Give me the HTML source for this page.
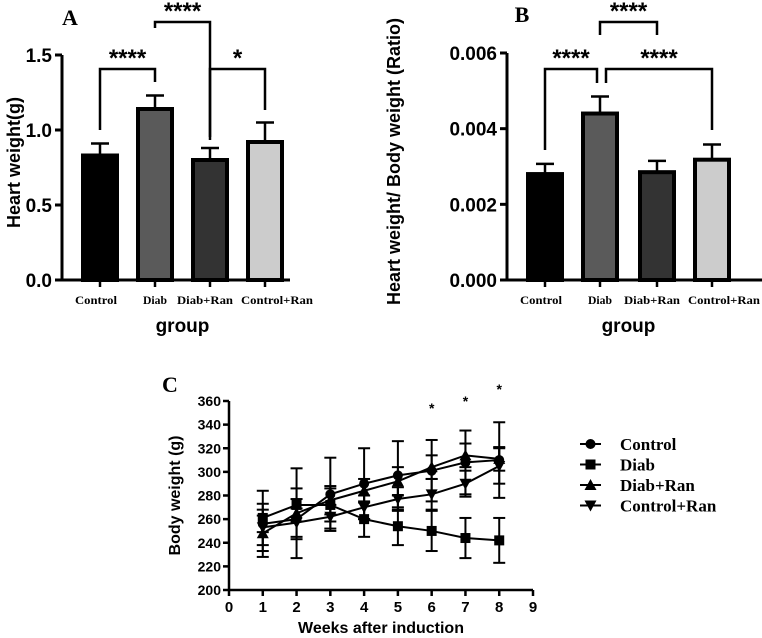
<!DOCTYPE html>
<html><head><meta charset="utf-8"><style>
body{margin:0;background:#fff}
svg{display:block}
.ax{font-family:"Liberation Sans",Arial,sans-serif;font-weight:bold}
.sf{font-family:"Liberation Serif",serif;font-weight:bold}
</style></head><body>
<svg id="s" width="762" height="638" viewBox="0 0 762 638"></svg>
<script>
const groups=["Control","Diab","Diab+Ran","Control+Ran"];
const fills=["#000","#5a5a5a","#333","#ccc"];
const aVals=[0.83,1.14,0.80,0.92];
const aErr=[0.08,0.09,0.08,0.13];
const aTicks=[0,0.5,1.0,1.5];
const bVals=[0.0028,0.0044,0.00285,0.00318];
const bErr=[0.00027,0.00045,0.0003,0.0004];
const bTicks=[0,0.002,0.004,0.006];
const weeks=[1,2,3,4,5,6,7,8];
const cCtrl=[256,260,281,290,297,301,308,310];
const cCtrlE=[28,17,31,30,29,26,27,32];
const cDiab=[261,272,272,260,254,250,244,242];
const cDiabE=[12,14,14,15,16,17,17,19];
const cDR=[248,265,276,284,292,304,314,311];
const cDRE=[15,38,12,10,12,10,10,10];
const cCR=[253,257,262,270,277,281,290,305];
const cCRE=[15,12,10,10,10,13,11,15];
const cXTicks=[0,1,2,3,4,5,6,7,8,9];
const cYTicks=[200,220,240,260,280,300,320,340,360];
const starWeeks=[6,7,8];

const S=document.getElementById('s');const NS="http://www.w3.org/2000/svg";
function el(t,a,p){const e=document.createElementNS(NS,t);for(const k in a)e.setAttribute(k,a[k]);(p||S).appendChild(e);return e;}
function txt(x,y,s,cls,size,anchor,extra){const e=el('text',Object.assign({x:x,y:y,'class':cls,'font-size':size,'text-anchor':anchor||'middle'},extra||{}));e.textContent=s;return e;}

function barChart(prefix,x0,xEnd,y0,yTop,maxV,vals,errs,ticks,fmt,centers,ylabel,ytx,brackets){
  const g=el('g',{});
  
  
  const Y=v=>y0-(v/maxV)*(y0-yTop);
  el('line',{x1:x0,y1:y0,x2:x0,y2:yTop,stroke:'#000','stroke-width':3},g);
  el('line',{x1:x0,y1:y0,x2:xEnd,y2:y0,stroke:'#000','stroke-width':3},g);
  ticks.forEach(t=>{el('line',{x1:x0-7,y1:Y(t),x2:x0,y2:Y(t),stroke:'#000','stroke-width':3},g);
    const tt=txt(x0-10,Y(t)+7,fmt(t),'ax',19,'end');g.appendChild(tt);
    });
  vals.forEach((v,i)=>{const c=centers[i];
    el('line',{x1:c,y1:Y(v),x2:c,y2:Y(v+errs[i]),stroke:'#000','stroke-width':2.5},g);
    el('line',{x1:c-9,y1:Y(v+errs[i]),x2:c+9,y2:Y(v+errs[i]),stroke:'#000','stroke-width':2.5},g);
    const r=el('rect',{x:c-17,y:Y(v),width:34,height:y0-Y(v),fill:fills[i],stroke:'#000','stroke-width':4},g);
    
    el('line',{x1:c,y1:y0,x2:c,y2:y0+7,stroke:'#000','stroke-width':2.5},g);
    const l=txt(c+[-4,0,-5,12][i],y0+24,groups[i],'sf',11.5,'middle',{textLength:[42,24,56,72][i],lengthAdjust:'spacingAndGlyphs'});g.appendChild(l);
    
  });
  const xl=txt((centers[0]+centers[3])/2,y0+52,'group','ax',19,'middle');g.appendChild(xl);
  
  const yl=txt(0,0,ylabel,'ax',18,'middle',{transform:'translate('+ytx+','+((y0+yTop)/2-5)+') rotate(-90)'});g.appendChild(yl);
  
  brackets.forEach(b=>{el('path',{d:'M'+b[0]+' '+b[3]+'V'+b[2]+'H'+b[1]+'V'+b[4],fill:'none',stroke:'#000','stroke-width':2.5},g);
    const st=txt((b[0]+b[1])/2,b[2]-3,b[5],'ax',24,'middle');g.appendChild(st);
    });
}
barChart('a',62,290,280,55,1.5,aVals,aErr,aTicks,t=>t.toFixed(1),[100,155,210,265],'Heart weight(g)',20,
  [[100,155,69,130,82,'****'],[155,210,22,28,140,'****'],[210,265,69,137,110,'*']]);
barChart('b',507,765,280,53,0.006,bVals,bErr,bTicks,t=>t.toFixed(3),[545,600,657,712],'Heart weight/ Body weight (Ratio)',400,
  [[545,597,69,150,83,'****'],[600,657,22,35,35,'****'],[606,712,69,83,130,'****']]);
let t;
t=txt(70,25,'A','sf',22,'middle');
t=txt(522,22,'B','sf',22,'middle');
t=txt(170,392,'C','sf',22,'middle');

const cx0=229,cx1=533,cy0=590,cyT=401;
const X=w=>cx0+w*(cx1-cx0)/9, Y=v=>cy0-(v-200)*(cy0-cyT)/160;
const gc=el('g',{});


el('line',{x1:cx0,y1:cy0,x2:cx0,y2:cyT,stroke:'#000','stroke-width':2.5},gc);
el('line',{x1:cx0,y1:cy0,x2:cx1,y2:cy0,stroke:'#000','stroke-width':2.5},gc);
cYTicks.forEach(v=>{el('line',{x1:cx0-6,y1:Y(v),x2:cx0,y2:Y(v),stroke:'#000','stroke-width':2.5},gc);
  const a=txt(cx0-8,Y(v)+5,String(v),'ax',14,'end');gc.appendChild(a);
  });
cXTicks.forEach(w=>{el('line',{x1:X(w),y1:cy0,x2:X(w),y2:cy0+6,stroke:'#000','stroke-width':2.5},gc);
  const a=txt(X(w),cy0+22,String(w),'ax',15,'middle');gc.appendChild(a);
  });
t=txt((cx0+cx1)/2,cy0+43,'Weeks after induction','ax',16,'middle');gc.appendChild(t);

t=txt(0,0,'Body weight (g)','ax',16,'middle',{transform:'translate(180,'+((cy0+cyT)/2)+') rotate(-90)'});gc.appendChild(t);

function marker(shape,x,y,p){
  if(shape==='circle')return el('circle',{cx:x,cy:y,r:5,fill:'#000'},p);
  if(shape==='square')return el('rect',{x:x-5,y:y-5,width:10,height:10,fill:'#000'},p);
  if(shape==='up')return el('path',{d:'M'+x+' '+(y-6)+'L'+(x+6)+' '+(y+5)+'L'+(x-6)+' '+(y+5)+'Z',fill:'#000'},p);
  return el('path',{d:'M'+x+' '+(y+6)+'L'+(x+6)+' '+(y-5)+'L'+(x-6)+' '+(y-5)+'Z',fill:'#000'},p);
}
const series=[['control',cCtrl,cCtrlE,'circle','Control'],['diab',cDiab,cDiabE,'square','Diab'],['diab-ran',cDR,cDRE,'up','Diab+Ran'],['control-ran',cCR,cCRE,'down','Control+Ran']];
series.forEach((s,si)=>{
  const sg=el('g',{},gc);
  
  
  s[1].forEach((v,i)=>{const x=X(weeks[i]);
    el('line',{x1:x,y1:Y(v-s[2][i]),x2:x,y2:Y(v+s[2][i]),stroke:'#000','stroke-width':2},sg);
    [v-s[2][i],v+s[2][i]].forEach(e=>el('line',{x1:x-6,y1:Y(e),x2:x+6,y2:Y(e),stroke:'#000','stroke-width':2},sg));});
  el('polyline',{points:s[1].map((v,i)=>X(weeks[i])+','+Y(v)).join(' '),fill:'none',stroke:'#000','stroke-width':2},sg);
  s[1].forEach((v,i)=>{const m=marker(s[3],X(weeks[i]),Y(v),sg);
    });
  const ly=444+si*20.5;
  const lg=el('g',{});
  
  
  el('line',{x1:580,y1:ly,x2:601,y2:ly,stroke:'#000','stroke-width':2},lg);
  marker(s[3],590.5,ly,lg);
  const lt=txt(620,ly+6,s[4],'sf',17,'start');lg.appendChild(lt);
});
starWeeks.forEach((w,i)=>{const yy=[413,406,394][i];
  const a=txt(X(w),yy,'*','ax',14,'middle');gc.appendChild(a);
  });
</script>
</body></html>
